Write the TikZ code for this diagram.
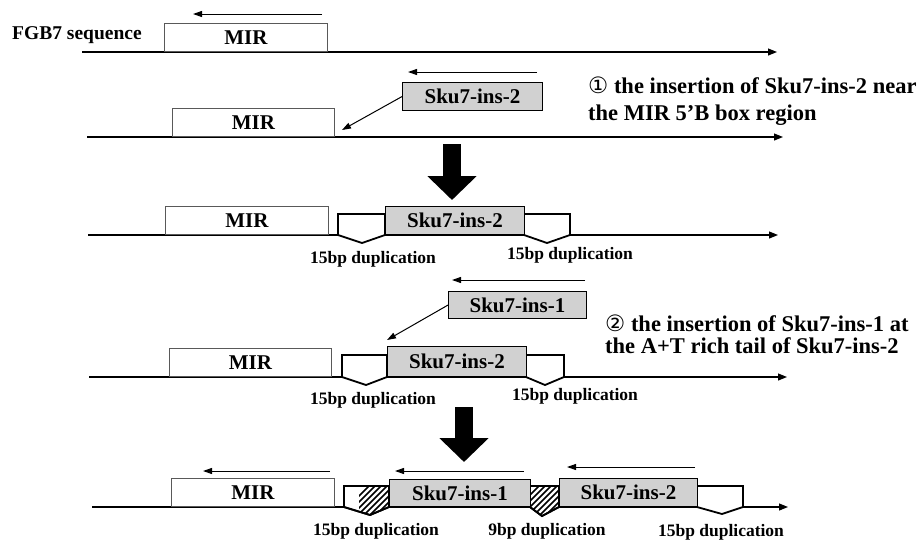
\documentclass[tikz,border=0pt]{standalone}
\usepackage{fontspec}
\setmainfont{Liberation Serif}
\newfontfamily\circfont{DejaVu Sans}
\usetikzlibrary{arrows.meta}

\tikzset{
  dna/.style={line width=1.1pt, -{Triangle[length=9pt,width=7pt]}},
  pijl/.style={line width=1pt, -{Triangle[length=9pt,width=6pt]}},
  mirbox/.style={draw=black!65, line width=0.9pt, fill=white, inner sep=0pt,
    minimum width=163pt, minimum height=28pt, anchor=south west,
    font=\bfseries\fontsize{21}{21}\selectfont},
  skubox/.style={draw, line width=0.9pt, fill=black!18, inner sep=0pt,
    minimum height=28pt, anchor=south west,
    font=\bfseries\fontsize{21}{21}\selectfont},
  dup/.style={draw, line width=1.8pt, fill=white},
  arcering/.style={line width=1.6pt},
  duplabel/.style={anchor=base, inner sep=0pt, font=\bfseries\fontsize{17.5}{17.5}\selectfont},
  stap/.style={anchor=base west, inner sep=0pt, font=\bfseries\fontsize{22.5}{22.5}\selectfont},
  dikkepijl/.style={line width=18pt, -{Triangle[length=24pt,width=48pt]}},
}

\begin{document}
\begin{tikzpicture}[x=1pt, y={(0pt,-1pt)}]
\useasboundingbox (0,0) rectangle (921,542);

% Rij 1: FGB7
\draw[pijl] (322,14) -- (193,14);
\node[anchor=base west, inner sep=0pt, font=\bfseries\fontsize{19.5}{19.5}\selectfont] (fgb) at (12,39) {FGB7 sequence};
\draw[dna] (82,52) -- (777,52);
\node[mirbox] (mir1) at (164,52) {MIR};

% Rij 2: insertie Sku7-ins-2
\draw[pijl] (537,72) -- (408,72);
\draw[dna] (87,137) -- (783,137);
\node[mirbox, minimum width=162pt] (mir2) at (172,137) {MIR};
\node[skubox, minimum width=140pt] (ins2a) at (402,111) {Sku7-ins-2};
\coordinate (plek1) at (342,130);
\draw[pijl] (ins2a.west) -- (plek1);
\node[stap] (stap1) at (588,93) {{\mdseries\circfont ①} the insertion of Sku7-ins-2 near};
\node[stap] (stap1b) at (588,120) {the MIR 5’B box region};

\draw[dikkepijl] (452,144) -- (452,200);

% Rij 3
\draw[dna] (88,235) -- (778,235);
\node[mirbox] (mir3) at (165,235) {MIR};
\foreach \a/\v/\b/\t/\l/\d in {338/362/385/214/235/243, 524/547/570/214/235/243}
  \draw[dup] (\a,\t) -- (\a,\l) -- (\v,\d) -- (\b,\l) -- (\b,\t) -- cycle;
\node[skubox, minimum width=139pt] (ins2b) at (385,235) {Sku7-ins-2};
\node[duplabel] (dup3l) at (373,263) {15bp duplication};
\node[duplabel] (dup3r) at (570,259) {15bp duplication};

% Rij 4: insertie Sku7-ins-1
\draw[pijl] (585,280) -- (452,280);
\node[skubox, minimum width=138pt, minimum height=27pt] (ins1a) at (448,319) {Sku7-ins-1};
\draw[dna] (89,377) -- (787,377);
\node[mirbox, minimum width=162pt] (mir4) at (169,377) {MIR};
\foreach \a/\v/\b/\t/\l/\d in {342/366/387/355/377/385, 526/545/564/355/377/385}
  \draw[dup] (\a,\t) -- (\a,\l) -- (\v,\d) -- (\b,\l) -- (\b,\t) -- cycle;
\node[skubox, minimum width=139pt, minimum height=30pt] (ins2c) at (387,377) {Sku7-ins-2};
\coordinate (plek2) at (387,340);
\draw[pijl] (ins1a.west) -- (plek2);
\node[stap] (stap2) at (605,331) {{\mdseries\circfont ②} the insertion of Sku7-ins-1 at};
\node[stap] (stap2b) at (605,353) {the A+T rich tail of Sku7-ins-2};
\node[duplabel] (dup4l) at (373,404) {15bp duplication};
\node[duplabel] (dup4r) at (575,400) {15bp duplication};

\draw[dikkepijl] (464,407) -- (464,462);

% Rij 5: resultaat
\draw[pijl] (330,471) -- (203,471);
\draw[pijl] (524,471) -- (395,471);
\draw[pijl] (695,467) -- (567,467);
\draw[dna] (92,507) -- (788,507);
\node[mirbox] (mir5) at (171,507) {MIR};
\foreach \a/\v/\b/\t/\l/\d in {344/370/389/486/507/515, 530/542/559/486/507/516, 697/722/743/486/507/514}
  \draw[dup] (\a,\t) -- (\a,\l) -- (\v,\d) -- (\b,\l) -- (\b,\t) -- cycle;
% arcering
\begin{scope}
  \clip (359,486) -- (389,486) -- (389,507) -- (370,515) -- (359,511.6) -- cycle;
  \foreach \k in {0,...,12}
    \draw[arcering] (330+\k*6,525) -- ++(45,-45);
\end{scope}
\begin{scope}
  \clip (530,486) -- (530,507) -- (542,516) -- (559,507) -- (559,486) -- cycle;
  \foreach \k in {0,...,12}
    \draw[arcering] (500+\k*6,525) -- ++(45,-45);
\end{scope}
\draw[line width=1.8pt] (344,486) -- (344,507) -- (370,515) -- (389,507) -- (389,486) -- cycle;
\draw[line width=1.8pt] (530,486) -- (530,507) -- (542,516) -- (559,507) -- (559,486) -- cycle;
\node[skubox, minimum width=141pt, minimum height=27pt] (ins1b) at (389,507) {Sku7-ins-1};
\node[skubox, minimum width=138pt] (ins2d) at (559,507) {Sku7-ins-2};
\node[duplabel] (dup5l) at (376,535) {15bp duplication};
\node[duplabel] (dup5m) at (547,535) {9bp duplication};
\node[duplabel] (dup5r) at (721,536) {15bp duplication};
\end{tikzpicture}
\end{document}
